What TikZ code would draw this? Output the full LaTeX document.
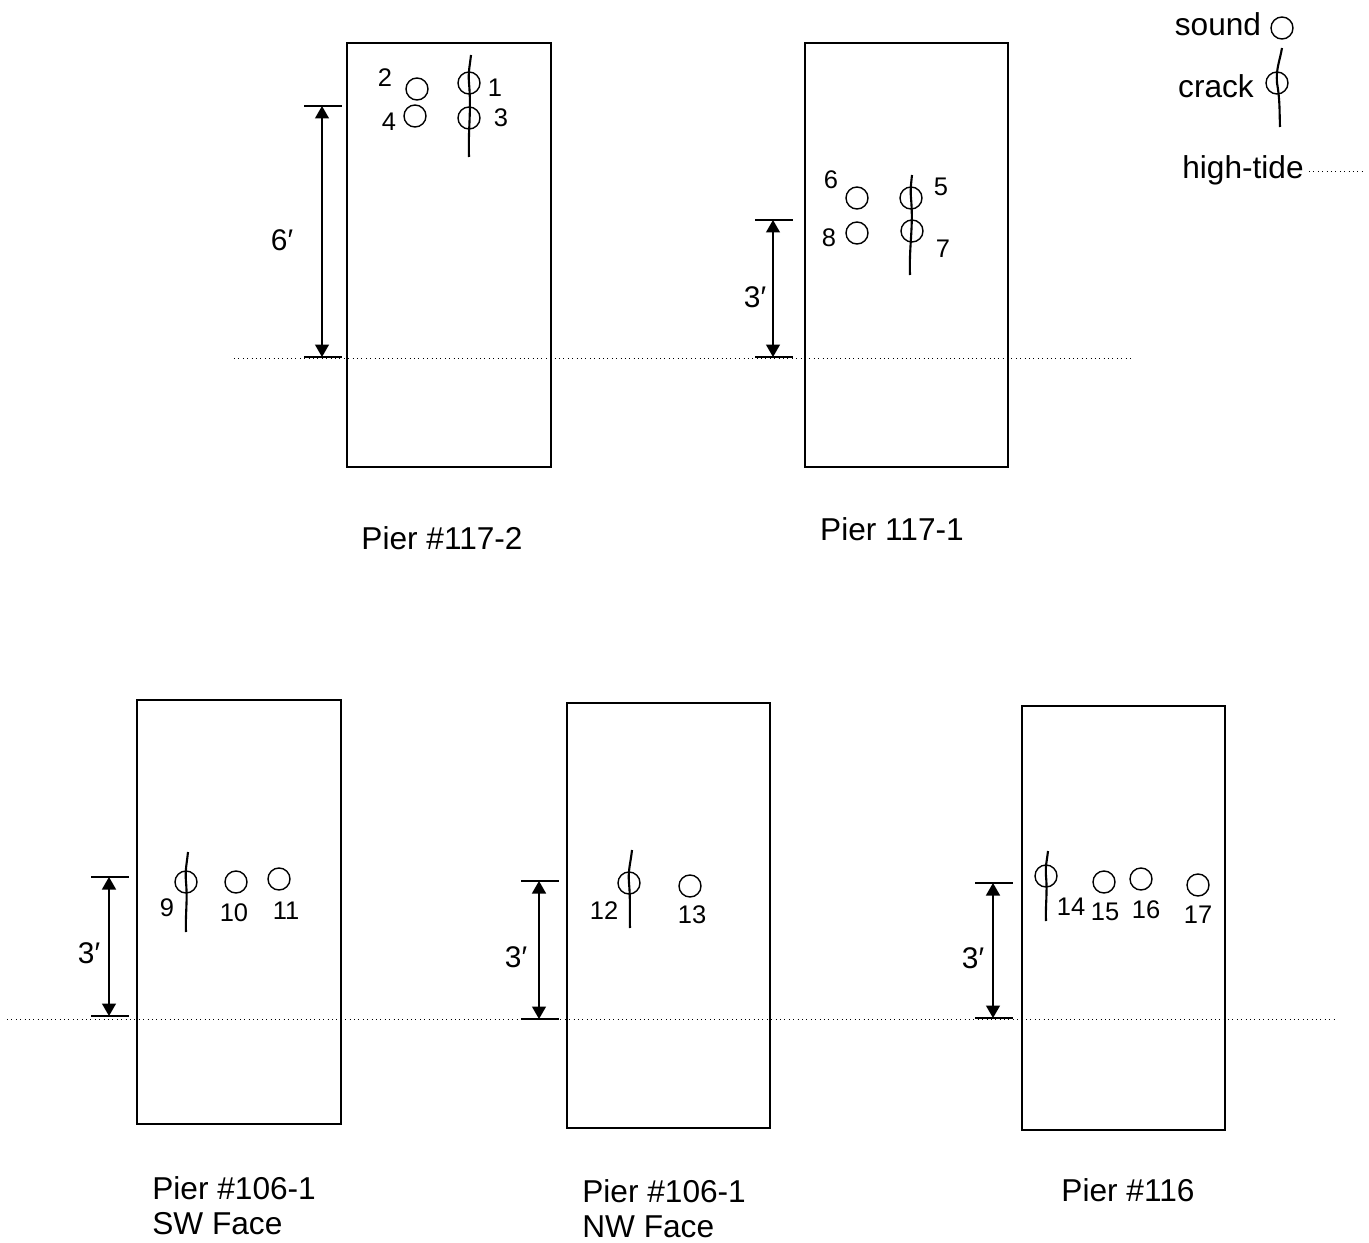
\documentclass[tikz,border=0pt]{standalone}
\usepackage{fontspec}
\setmainfont{Liberation Sans}
\usetikzlibrary{arrows.meta, calc, positioning}
\tikzset{pier/.style={draw, line width=0.8pt}}
\tikzset{hole/.style={circle, draw, line width=0.8pt, minimum size=0.44cm, inner sep=0pt}}
\tikzset{crackline/.style={line width=1.2pt}}
\tikzset{tideline/.style={dotted, line width=0.5pt}}
\tikzset{dimarrow/.style={{Triangle[length=0.25cm,width=0.28cm]}-{Triangle[length=0.25cm,width=0.28cm]}, line width=0.8pt}}
\tikzset{dimtick/.style={line width=0.8pt}}
\tikzset{numlabel/.style={font=\fontsize{14.5}{16}\selectfont, inner sep=0pt}}
\tikzset{dimlabel/.style={font=\fontsize{17}{19}\selectfont, inner sep=0pt}}
\tikzset{pierlabel/.style={font=\fontsize{18}{19.5}\selectfont, inner sep=0pt, align=left}}

\begin{document}
\begin{tikzpicture}[x=0.02cm, y=-0.02cm]
    \useasboundingbox (0,0) rectangle (1369,1243);

    % piers
    \draw[pier] (347,43) rectangle (551,467);
    \draw[pier] (805,43) rectangle (1008,467);
    \draw[pier] (137,700) rectangle (341,1124);
    \draw[pier] (567,703) rectangle (770,1128);
    \draw[pier] (1022,706) rectangle (1225,1130);

    % high-tide lines
    \coordinate (Tl1) at (234,358);
    \coordinate (Tr1) at (1131,358);
    \coordinate (Tl2) at (7,1019);
    \coordinate (Tr2) at (1334,1019);
    \draw[tideline] (Tl1) -- (Tr1);
    \draw[tideline] (Tl2) -- (Tr2);

    % test points
    \foreach \n/\x/\y in {1/469/83, 2/417/89, 3/469/118, 4/415/116,
                          5/911/198, 6/857/198, 7/912/231, 8/857/233,
                          9/186/882, 10/236/882, 11/279/879,
                          12/629/883, 13/690/886,
                          14/1046/876, 15/1104/882, 16/1141/879, 17/1198/885}{
        \node[hole] (N\n) at (\x,\y) {};
    }
    \foreach \n/\x/\y in {1/495/88, 2/385/78, 3/501/118, 4/389/122,
                          5/941/187, 6/831/180, 7/943/249, 8/829/238,
                          9/167/908, 10/234/913, 11/286/911,
                          12/604/911, 13/692/915,
                          14/1071/907, 15/1105/912, 16/1146/910, 17/1198/915}{
        \node[numlabel] (L\n) at (\x,\y) {\n};
    }

    % cracks
    \foreach \n/\x/\t/\b in {1/470/55/157, 5/911/175/275, 9/187/852/932,
                             12/631/850/928, 14/1047/851/921}{
        \coordinate (Ka\n) at (\x+1,\t);
        \coordinate (Kb\n) at (\x-1,\b);
        \draw[crackline] (Ka\n) to[out=-96,in=95] (N\n.center) to[out=-85,in=92] (Kb\n);
    }

    % heights above high tide
    \foreach \n/\x/\t/\b in {a/322/106/357, b/773/220/357, c/109/877/1016,
                             d/539/881/1019, e/993/883/1018}{
        \coordinate (Dt\n) at (\x,\t);
        \coordinate (Db\n) at (\x,\b);
        \draw[dimarrow] (Dt\n) -- (Db\n);
        \draw[dimtick] ($(Dt\n)+(-18,0)$) -- ($(Dt\n)+(20,0)$);
        \draw[dimtick] ($(Db\n)+(-18,0)$) -- ($(Db\n)+(20,0)$);
    }
    \node[dimlabel] (Ha) at (282,240) {6′};
    \node[dimlabel] (Hb) at (755,297) {3′};
    \node[dimlabel] (Hc) at (89,953) {3′};
    \node[dimlabel] (Hd) at (516,957) {3′};
    \node[dimlabel] (He) at (973,958) {3′};

    % pier names
    \node[pierlabel, anchor=base] (P1) at (442,549) {Pier \#117-2};
    \node[pierlabel, anchor=base] (P2) at (892,540) {Pier 117-1};
    \node[pierlabel, anchor=base west] (P3) at (152,1234) {Pier \#106-1\\SW Face};
    \node[pierlabel, anchor=base west] (P4) at (582,1237) {Pier \#106-1\\NW Face};
    \node[pierlabel, anchor=base] (P5) at (1128,1201) {Pier \#116};

    % legend
    \node[pierlabel, anchor=base] (Gs) at (1218,36) {sound};
    \node[hole] (Cs) at (1282,28) {};
    \node[pierlabel, anchor=base] (Gc) at (1216,98) {crack};
    \node[hole] (Cc) at (1277,83) {};
    \coordinate (Kac) at (1282,48);
    \coordinate (Kbc) at (1280,127);
    \draw[crackline] (Kac) to[out=-100,in=95] (Cc.center) to[out=-80,in=92] (Kbc);
    \node[pierlabel, anchor=base] (Gt) at (1243,179) {high-tide};
    \coordinate (Tl3) at (1309,171);
    \coordinate (Tr3) at (1365,171);
    \draw[tideline] (Tl3) -- (Tr3);
\end{tikzpicture}
\end{document}
